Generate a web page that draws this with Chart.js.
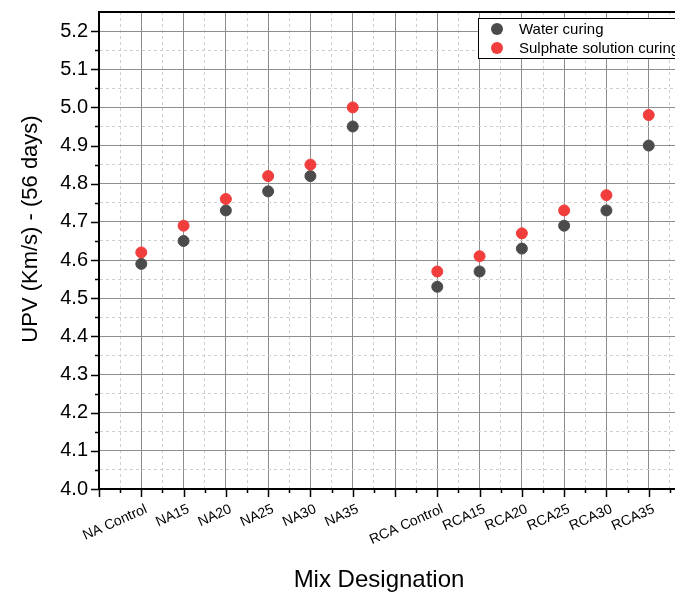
<!DOCTYPE html>
<html lang="en">
<head>
    <meta charset="UTF-8">
    <title>UPV at 56 days</title>
    <script src="https://cdn.jsdelivr.net/npm/chart.js"></script>
    <style>
        * {
            margin: 0;
            padding: 0;
            box-sizing: border-box;
        }

        body {
            width: 675px;
            height: 596px;
            overflow: hidden;
            background: #fff;
        }

        .chart-box {
            width: 700px;
            height: 596px;
        }
    </style>
</head>
<body>
    <div class="chart-box">
        <canvas id="upvChart" width="700" height="596"></canvas>
    </div>

    <script>
        // Mix designations (empty slot separates the NA and RCA groups)
        const mixes = ['NA Control', 'NA15', 'NA20', 'NA25', 'NA30', 'NA35', '',
                       'RCA Control', 'RCA15', 'RCA20', 'RCA25', 'RCA30', 'RCA35'];

        // UPV readings at 56 days (km/s)
        const waterCuring = [4.59, 4.65, 4.73, 4.78, 4.82, 4.95, null,
                             4.53, 4.57, 4.63, 4.69, 4.73, 4.90];
        const sulphateCuring = [4.62, 4.69, 4.76, 4.82, 4.85, 5.00, null,
                                4.57, 4.61, 4.67, 4.73, 4.77, 4.98];

        const seriesNames = ['Water curing', 'Sulphate solution curing'];
        const seriesColors = ['#4b4b4b', '#f23d3d'];

        const yTickLabels = ['4.0', '4.1', '4.2', '4.3', '4.4', '4.5', '4.6',
                             '4.7', '4.8', '4.9', '5.0', '5.1', '5.2'];

        const FONT = "'Liberation Sans', Arial, sans-serif";

        const toPoints = values => values
            .map((v, i) => ({ x: i + 1, y: v }))
            .filter(p => p.y !== null);

        const isMajorX = v => Math.abs(v - Math.round(v)) < 1e-6;
        const isMajorY = v => Math.abs(v * 10 - Math.round(v * 10)) < 1e-6;

        // tick marks, top frame line, axis titles and the boxed legend
        const decorations = {
            id: 'decorations',
            afterDraw(chart) {
                const { ctx, chartArea, scales } = chart;
                const xs = scales.x, ys = scales.y;
                ctx.save();

                ctx.strokeStyle = '#000';
                ctx.lineWidth = 1.5;
                ctx.beginPath();
                xs.ticks.forEach(t => {
                    const px = Math.round(xs.getPixelForValue(t.value)) + 0.5;
                    const len = isMajorX(t.value) ? 8 : 4;
                    ctx.moveTo(px, chartArea.bottom);
                    ctx.lineTo(px, chartArea.bottom + len);
                });
                ys.ticks.forEach(t => {
                    if (t.value > 5.21) return;
                    const py = Math.round(ys.getPixelForValue(t.value)) + 0.5;
                    const len = isMajorY(t.value) ? 8 : 4;
                    ctx.moveTo(chartArea.left, py);
                    ctx.lineTo(chartArea.left - len, py);
                });
                ctx.stroke();

                // top frame
                ctx.lineWidth = 2;
                ctx.beginPath();
                ctx.moveTo(chartArea.left - 1, chartArea.top);
                ctx.lineTo(chartArea.right, chartArea.top);
                ctx.stroke();

                // axis titles
                ctx.fillStyle = '#000';
                ctx.textAlign = 'center';
                ctx.textBaseline = 'middle';
                ctx.font = '24px ' + FONT;
                ctx.fillText('Mix Designation', 379, 580);

                ctx.save();
                ctx.translate(31, 229);
                ctx.rotate(-Math.PI / 2);
                ctx.font = '22px ' + FONT;
                ctx.fillText('UPV (Km/s) - (56 days)', 0, 0);
                ctx.restore();

                // legend
                const lx = 478, ly = 18;
                ctx.fillStyle = '#fff';
                ctx.fillRect(lx, ly, 260, 40);
                ctx.lineWidth = 1;
                ctx.strokeStyle = '#000';
                ctx.strokeRect(lx + 0.5, ly + 0.5, 260, 40);

                ctx.font = '15px ' + FONT;
                ctx.textAlign = 'left';
                seriesNames.forEach((name, i) => {
                    const cy = ly + 11 + i * 19;
                    ctx.fillStyle = seriesColors[i];
                    ctx.beginPath();
                    ctx.arc(497, cy, 6, 0, Math.PI * 2);
                    ctx.fill();
                    ctx.fillStyle = '#000';
                    ctx.fillText(name, 519, cy + 1);
                });

                ctx.restore();
            }
        };

        const ctx = document.getElementById('upvChart').getContext('2d');

        new Chart(ctx, {
            type: 'scatter',
            data: {
                datasets: [
                    {
                        label: seriesNames[0],
                        data: toPoints(waterCuring),
                        backgroundColor: seriesColors[0],
                        borderColor: seriesColors[0],
                        borderWidth: 1,
                        pointRadius: 5.5,
                        order: 2
                    },
                    {
                        label: seriesNames[1],
                        data: toPoints(sulphateCuring),
                        backgroundColor: seriesColors[1],
                        borderColor: seriesColors[1],
                        borderWidth: 1,
                        pointRadius: 5.5,
                        order: 1
                    }
                ]
            },
            options: {
                responsive: false,
                animation: false,
                layout: {
                    padding: { left: 0, top: 12, right: 9, bottom: 0 }
                },
                plugins: {
                    legend: { display: false },
                    tooltip: { enabled: false }
                },
                scales: {
                    x: {
                        type: 'linear',
                        min: 0,
                        max: 14,
                        afterFit: scale => {
                            scale.height = 107;
                            scale.paddingLeft = 0;
                            scale.paddingRight = 0;
                        },
                        border: {
                            color: '#000',
                            width: 2,
                            dash: c => (c.tick && !isMajorX(c.tick.value)) ? [3, 3] : []
                        },
                        grid: {
                            drawTicks: false,
                            color: c => isMajorX(c.tick.value) ? '#8e8e8e' : '#cfcfcf',
                            lineWidth: 1
                        },
                        ticks: {
                            stepSize: 0.5,
                            autoSkip: false,
                            minRotation: 24,
                            maxRotation: 24,
                            padding: 12,
                            labelOffset: 5,
                            color: '#000',
                            font: { family: FONT, size: 14 },
                            callback: v => {
                                if (!isMajorX(v)) return '';
                                const name = mixes[Math.round(v) - 1];
                                return name === undefined ? '' : name;
                            }
                        }
                    },
                    y: {
                        type: 'linear',
                        min: 4.0,
                        max: 5.25,
                        afterFit: scale => {
                            scale.width = 99;
                            scale.paddingTop = 0;
                            scale.paddingBottom = 0;
                        },
                        border: {
                            color: '#000',
                            width: 2,
                            dash: c => (c.tick && !isMajorY(c.tick.value)) ? [3, 3] : []
                        },
                        grid: {
                            drawTicks: false,
                            color: c => isMajorY(c.tick.value) ? '#8e8e8e' : '#cfcfcf',
                            lineWidth: 1
                        },
                        ticks: {
                            stepSize: 0.05,
                            autoSkip: false,
                            padding: 11,
                            color: '#000',
                            font: { family: FONT, size: 20 },
                            callback: v => {
                                if (!isMajorY(v)) return '';
                                const label = yTickLabels[Math.round((v - 4.0) * 10)];
                                return label === undefined ? '' : label;
                            }
                        }
                    }
                }
            },
            plugins: [decorations]
        });
    </script>
</body>
</html>
